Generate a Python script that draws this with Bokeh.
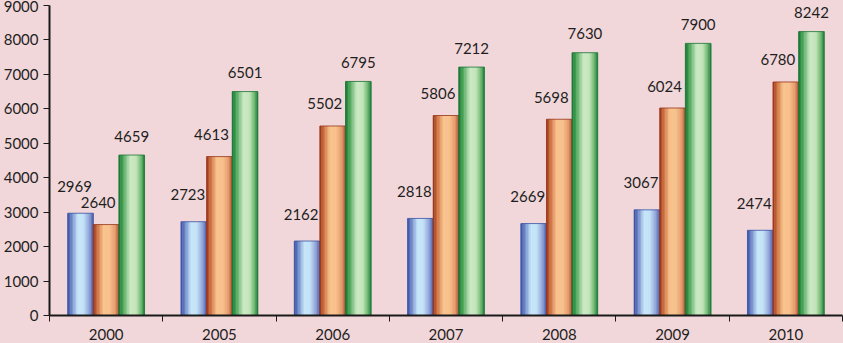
import numpy as np
from bokeh.plotting import figure
from bokeh.models import ColumnDataSource, Range1d, FixedTicker, GlobalInlineStyleSheet
from bokeh.transform import dodge
from bokeh.core.properties import value
from bokeh.embed import file_html
from bokeh.resources import INLINE

# ---- data ----
years = ["2000", "2005", "2006", "2007", "2008", "2009", "2010"]
series_blue = [2969, 2723, 2162, 2818, 2669, 3067, 2474]
series_orange = [2640, 4613, 5502, 5806, 5698, 6024, 6780]
series_green = [4659, 6501, 6795, 7212, 7630, 7900, 8242]
y_ticks = [0, 1000, 2000, 3000, 4000, 5000, 6000, 7000, 8000, 9000]

# ---- styling ----
BG = "#F1D7D9"
FONT = "Lato"
FS = "15px"
TXT = "#1E1E1E"
BW = 0.226       # bar width (category units)
NSTRIP = 18      # strips used to imitate the gradient fill

gradients = {
    "blue": [(0.0, "#3A52A3"), (0.12, "#5E78C0"), (0.40, "#C6E6FA"), (0.62, "#C2E2F8"),
             (0.85, "#8EA2D8"), (1.0, "#4A5CAC")],
    "orange": [(0.0, "#96341A"), (0.14, "#C86838"), (0.40, "#F9C38C"), (0.64, "#F8C08A"),
               (0.86, "#E49A6C"), (1.0, "#B0502C")],
    "green": [(0.0, "#1A7436"), (0.14, "#3E9E4E"), (0.45, "#CBEAC4"), (0.68, "#C2E5BA"),
              (0.88, "#6AB66C"), (1.0, "#1A7C3C")],
}
edge = {"blue": "#3A52A3", "orange": "#96341A", "green": "#1A7436"}


def hex2rgb(h):
    h = h.lstrip("#")
    return np.array([int(h[i:i + 2], 16) for i in (0, 2, 4)], dtype=float)


def grad_color(stops, t):
    for (t0, c0), (t1, c1) in zip(stops[:-1], stops[1:]):
        if t0 <= t <= t1:
            f = (t - t0) / (t1 - t0) if t1 > t0 else 0
            c = hex2rgb(c0) * (1 - f) + hex2rgb(c1) * f
            return "#%02x%02x%02x" % tuple(int(round(v)) for v in c)
    return stops[-1][1]


src = ColumnDataSource(dict(
    xi=list(range(len(years))),
    blue=series_blue, orange=series_orange, green=series_green,
    blue_l=[str(v) for v in series_blue],
    orange_l=[str(v) for v in series_orange],
    green_l=[str(v) for v in series_green],
))

p = figure(width=843, height=343, output_backend="svg", toolbar_location=None,
           x_range=Range1d(-0.5, len(years) - 0.5), y_range=Range1d(0, 9000),
           background_fill_color=BG, border_fill_color=BG, outline_line_color=None,
           min_border_left=49, min_border_right=1, min_border_top=5, min_border_bottom=28)
p.stylesheets = [GlobalInlineStyleSheet(
    css="html, body { margin: 0 !important; padding: 0; background: %s; overflow: hidden; }" % BG)]
p.grid.visible = False

series = [("blue", -BW, -6, 27), ("orange", 0.0, -8, 22), ("green", BW, 0, 19)]
sw = BW / NSTRIP
for name, off, xoff, yoff in series:
    for j in range(NSTRIP):
        t = (j + 0.5) / NSTRIP
        c = grad_color(gradients[name], t)
        p.vbar(x=dodge("xi", off - BW / 2 + (j + 0.5) * sw, range=p.x_range),
               top=name, bottom=0, width=sw * 1.25, source=src,
               fill_color=c, line_color=None)
    p.vbar(x=dodge("xi", off, range=p.x_range), top=name, bottom=0, width=BW,
           source=src, fill_color=None, line_color=edge[name], line_width=1, line_alpha=0.8)
    p.text(x=dodge("xi", off, range=p.x_range), y=name, text=name + "_l", source=src,
           x_offset=xoff, y_offset=-yoff, text_align="center", text_baseline="middle",
           text_font=value(FONT), text_font_size=FS, text_color=TXT)

# x axis: labels at category centres, ticks at category boundaries
xa = p.xaxis[0]
xa.ticker = FixedTicker(ticks=list(range(len(years))),
                        minor_ticks=[i - 0.5 for i in range(len(years) + 1)])
xa.major_label_overrides = {i: y for i, y in enumerate(years)}
xa.major_tick_in = 0
xa.major_tick_out = 0
xa.minor_tick_in = 0
xa.minor_tick_out = 6
xa.minor_tick_line_color = "#1A1A1A"
xa.minor_tick_line_width = 1
xa.axis_line_color = "#1A1A1A"
xa.axis_line_width = 2
xa.major_label_standoff = 7
xa.major_label_text_font = FONT
xa.major_label_text_font_size = FS
xa.major_label_text_color = TXT

ya = p.yaxis[0]
ya.ticker = FixedTicker(ticks=y_ticks, minor_ticks=[])
ya.major_tick_in = 0
ya.major_tick_out = 6
ya.major_tick_line_color = "#1A1A1A"
ya.minor_tick_line_color = None
ya.axis_line_color = "#1A1A1A"
ya.axis_line_width = 2
ya.major_label_standoff = 5
ya.major_label_text_font = FONT
ya.major_label_text_font_size = FS
ya.major_label_text_color = TXT

open("out.html", "w").write(file_html(p, INLINE))
